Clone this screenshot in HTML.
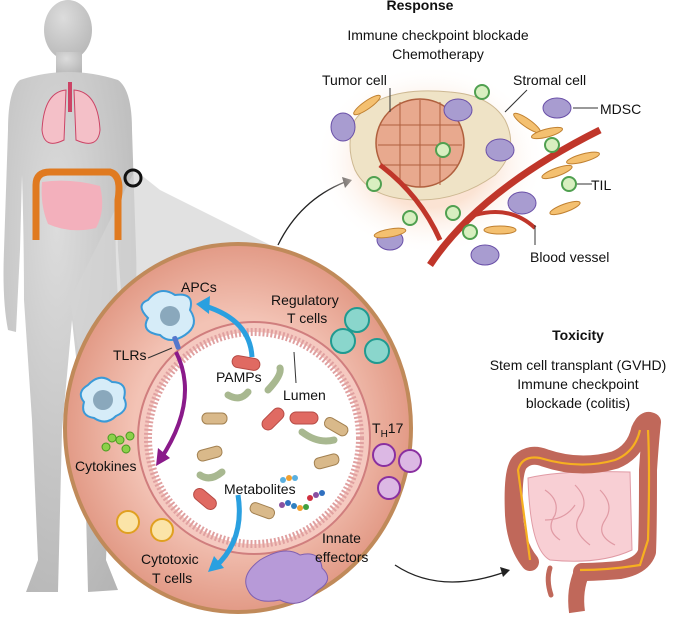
<!DOCTYPE html>
<html><head><meta charset="utf-8"><style>
body{margin:0;background:#fff}
svg{display:block}
text{font-family:"Liberation Sans",sans-serif;font-size:14px;fill:#111}
</style></head><body>
<svg width="685" height="625" viewBox="0 0 685 625">
<defs>
<radialGradient id="ring" cx="50%" cy="50%" r="50%">
<stop offset="60%" stop-color="#f3c3b5"/><stop offset="100%" stop-color="#e29a86"/>
</radialGradient>
<radialGradient id="body" cx="40%" cy="30%" r="80%">
<stop offset="0" stop-color="#dcdcdc"/><stop offset="1" stop-color="#b5b5b5"/>
</radialGradient>
<radialGradient id="halo" cx="50%" cy="50%" r="50%">
<stop offset="0.5" stop-color="#fbe3d3"/><stop offset="1" stop-color="#fff" stop-opacity="0"/>
</radialGradient>
</defs>
<g fill="url(#body)">
<ellipse cx="68" cy="30" rx="24" ry="30"/>
<rect x="56" y="52" width="26" height="22"/>
<path d="M20 80 Q68 64 118 80 Q132 90 132 130 L136 250 Q138 300 130 330 L124 332 L118 250 L116 175 Q114 240 118 300 L112 420 L106 560 L118 590 L88 592 L84 430 L72 320 L62 430 L58 592 L26 592 L38 560 L32 420 L24 300 Q24 240 22 175 L20 250 L16 332 L8 330 Q2 300 4 250 L8 130 Q8 90 20 80Z"/>
</g>
<path d="M135 170 L160 190 L300 260 L90 420 L70 300 Z" fill="#d4d4d4" opacity="0.7"/>
<path d="M66 90 Q44 92 42 130 Q44 150 64 140 Z" fill="#f4c0c8" stroke="#c46" stroke-width="1"/>
<path d="M74 90 Q98 92 100 130 Q98 150 76 140 Z" fill="#f4c0c8" stroke="#c46" stroke-width="1"/>
<rect x="68" y="82" width="4" height="30" fill="#c46"/>
<path d="M42 182 Q70 178 100 186 Q106 210 96 228 Q70 234 48 224 Q40 205 42 182Z" fill="#f3b0bc"/>
<path d="M36 240 L36 185 Q36 172 50 172 L110 172 Q122 175 118 200 L118 240" fill="none" stroke="#e07a20" stroke-width="7"/>
<circle cx="133" cy="178" r="8" fill="none" stroke="#111" stroke-width="3"/>
<ellipse cx="238" cy="428" rx="173" ry="184" fill="url(#ring)" stroke="#c08a5a" stroke-width="4"/>
<circle cx="254" cy="438" r="116" fill="#f5c9c0" stroke="#d07e7e" stroke-width="2"/>
<circle cx="254" cy="438" r="106" fill="#fff" stroke="#e0a0a0" stroke-width="8" stroke-dasharray="2 2"/>
<g fill="#e06a62" stroke="#b64b45">
<rect x="232" y="357" width="28" height="12" rx="6" transform="rotate(10 246 363)"/>
<rect x="290" y="412" width="28" height="12" rx="6"/>
<rect x="260" y="413" width="26" height="12" rx="6" transform="rotate(-45 273 419)"/>
<rect x="192" y="493" width="26" height="12" rx="6" transform="rotate(40 205 499)"/>
</g>
<g fill="#d9b98a" stroke="#a28050">
<rect x="202" y="413" width="25" height="11" rx="5"/>
<rect x="197" y="448" width="25" height="11" rx="5" transform="rotate(-15 210 453)"/>
<rect x="324" y="421" width="25" height="11" rx="5" transform="rotate(30 336 426)"/>
<rect x="314" y="456" width="25" height="11" rx="5" transform="rotate(-15 326 461)"/>
<rect x="250" y="505" width="25" height="11" rx="5" transform="rotate(20 262 510)"/>
</g>
<g fill="none" stroke="#a8b890" stroke-width="7" stroke-linecap="round">
<path d="M228 395 Q240 402 248 392"/><path d="M268 390 Q282 375 280 368"/>
<path d="M302 432 Q318 444 334 440"/><path d="M200 475 Q210 482 222 472"/>
</g>
<g>
<circle cx="283" cy="480" r="3" fill="#5ab0e0"/><circle cx="289" cy="478" r="3" fill="#f0a030"/><circle cx="295" cy="478" r="3" fill="#5ab0e0"/>
<circle cx="310" cy="498" r="3" fill="#d03040"/><circle cx="316" cy="495" r="3" fill="#8a50a0"/><circle cx="322" cy="493" r="3" fill="#3070c0"/>
<circle cx="282" cy="505" r="3" fill="#8a50a0"/><circle cx="288" cy="503" r="3" fill="#3070c0"/><circle cx="294" cy="506" r="3" fill="#3080c0"/><circle cx="300" cy="508" r="3" fill="#f0a030"/><circle cx="306" cy="507" r="3" fill="#40a040"/>
</g>
<path d="M148 300 Q160 285 175 295 Q195 292 190 310 Q200 325 185 335 Q170 345 160 335 Q140 332 148 318 Q135 305 148 300Z" fill="#d6ecf8" stroke="#3a9ad8" stroke-width="2"/>
<circle cx="170" cy="316" r="10" fill="#8aa8bc"/>
<rect x="174" y="336" width="5" height="14" rx="2" fill="#5577cc" transform="rotate(-20 176 343)"/>
<path d="M88 385 Q100 372 112 382 Q128 382 124 398 Q130 410 116 416 Q106 426 94 418 Q80 416 84 402 Q76 392 88 385Z" fill="#d6ecf8" stroke="#3a9ad8" stroke-width="2"/>
<circle cx="103" cy="400" r="10" fill="#8aa8bc"/>
<g fill="#8cd04a" stroke="#4a9a20"><circle cx="120" cy="440" r="4"/><circle cx="130" cy="436" r="4"/><circle cx="106" cy="447" r="4"/><circle cx="126" cy="449" r="4"/><circle cx="112" cy="438" r="4"/></g>
<g fill="#8ad6cc" stroke="#209a90" stroke-width="2"><circle cx="357" cy="320" r="12"/><circle cx="343" cy="341" r="12"/><circle cx="377" cy="351" r="12"/></g>
<g fill="#dcb8e4" stroke="#8a30a0" stroke-width="2"><circle cx="384" cy="455" r="11"/><circle cx="410" cy="461" r="11"/><circle cx="389" cy="488" r="11"/></g>
<g fill="#fbe4a8" stroke="#e0a020" stroke-width="2"><circle cx="128" cy="522" r="11"/><circle cx="162" cy="530" r="11"/></g>
<path d="M260 560 Q285 545 300 555 Q320 550 322 568 Q335 580 318 590 Q300 610 280 600 Q255 605 248 590 Q240 575 260 560Z" fill="#b79ad8" stroke="#8060b0"/>
<path d="M252 357 Q250 320 205 306" fill="none" stroke="#2aa0e0" stroke-width="5"/>
<path d="M196 304 L210 296 L209 314Z" fill="#2aa0e0"/>
<path d="M176 352 Q200 400 160 460" fill="none" stroke="#8a1a8a" stroke-width="4"/>
<path d="M156 466 L158 448 L170 458Z" fill="#8a1a8a"/>
<path d="M238 495 Q245 540 215 567" fill="none" stroke="#2aa0e0" stroke-width="5"/>
<path d="M208 572 L214 556 L224 568Z" fill="#2aa0e0"/>
<path d="M278 245 Q300 200 345 182" fill="none" stroke="#222" stroke-width="1.3"/>
<path d="M352 180 L342 177 L345 188Z" fill="#222"/>
<path d="M395 565 Q440 595 505 572" fill="none" stroke="#222" stroke-width="1.3"/>
<path d="M510 570 L500 567 L503 577Z" fill="#222"/>
<ellipse cx="430" cy="160" rx="115" ry="95" fill="url(#halo)"/>
<path d="M355 120 Q380 85 450 92 Q490 95 505 120 Q520 150 495 175 Q460 200 420 200 Q370 200 355 170 Q345 145 355 120Z" fill="#efe3c6" stroke="#cdb892"/>
<circle cx="420" cy="143" r="44" fill="#e8a98e" stroke="#b0603e" stroke-width="1.5"/>
<g stroke="#b0603e" stroke-width="1" fill="none"><path d="M380 125 L460 125 M378 145 L462 145 M382 165 L458 165 M400 102 L400 185 M420 100 L420 187 M440 102 L440 185"/></g>
<path d="M430 265 Q480 190 600 130" fill="none" stroke="#c0362a" stroke-width="7"/>
<path d="M440 240 Q420 195 380 165" fill="none" stroke="#c0362a" stroke-width="5"/>
<path d="M475 215 Q510 205 535 228" fill="none" stroke="#c0362a" stroke-width="4"/>
<g fill="#d8efc0" stroke="#50a050" stroke-width="2"><circle cx="482" cy="92" r="7"/><circle cx="443" cy="150" r="7"/><circle cx="552" cy="145" r="7"/><circle cx="569" cy="184" r="7"/><circle cx="374" cy="184" r="7"/><circle cx="410" cy="218" r="7"/><circle cx="453" cy="213" r="7"/><circle cx="470" cy="232" r="7"/></g>
<g fill="#a89cd0" stroke="#6a50a8"><ellipse cx="343" cy="127" rx="12" ry="14"/><ellipse cx="390" cy="240" rx="13" ry="10"/><ellipse cx="458" cy="110" rx="14" ry="11"/><ellipse cx="500" cy="150" rx="14" ry="11"/><ellipse cx="557" cy="108" rx="14" ry="10"/><ellipse cx="522" cy="203" rx="14" ry="11"/><ellipse cx="485" cy="255" rx="14" ry="10"/></g>
<g fill="#f4c070" stroke="#c08030"><ellipse cx="367" cy="105" rx="16" ry="4" transform="rotate(-35 367 105)"/><ellipse cx="527" cy="123" rx="16" ry="4" transform="rotate(35 527 123)"/><ellipse cx="547" cy="133" rx="16" ry="4" transform="rotate(-15 547 133)"/><ellipse cx="583" cy="158" rx="17" ry="4" transform="rotate(-15 583 158)"/><ellipse cx="557" cy="172" rx="16" ry="4" transform="rotate(-20 557 172)"/><ellipse cx="565" cy="208" rx="16" ry="4" transform="rotate(-20 565 208)"/><ellipse cx="390" cy="233" rx="16" ry="4" transform="rotate(-10 390 233)"/><ellipse cx="500" cy="230" rx="16" ry="4"/></g>
<!-- colon right -->
<path d="M528 478 Q560 470 630 472 L632 550 Q600 565 550 560 Q530 550 528 478Z" fill="#f8cfd4" stroke="#e09aa4"/>
<g fill="none" stroke="#e09aa4" stroke-width="1.2"><path d="M545 490 Q560 500 555 515 Q545 530 560 540 M575 485 Q590 500 580 515 Q570 530 590 545 M600 490 Q615 505 605 520 Q595 535 615 545 M545 520 Q565 520 575 505"/></g>
<path d="M530 562 Q516 545 514 515 Q512 470 520 462 Q530 452 545 458 Q580 470 615 460 Q635 452 640 430 Q645 418 652 422 Q650 440 648 470 Q648 530 647 552 Q642 566 620 570 Q595 572 582 572" fill="none" stroke="#c0685a" stroke-width="18" stroke-linejoin="round" stroke-linecap="round"/>
<path d="M582 572 Q574 590 577 612" fill="none" stroke="#c0685a" stroke-width="16"/>
<path d="M550 568 Q546 580 551 595" fill="none" stroke="#c0685a" stroke-width="5" stroke-linecap="round"/>
<path d="M530 560 L518 470 Q522 455 540 458 Q580 470 615 460 Q635 452 640 430 M648 430 Q650 470 648 540 L640 565 Q610 570 580 570" fill="none" stroke="#f6b020" stroke-width="2.2"/>
<text x="420" y="10" font-weight="bold" text-anchor="middle">Response</text>
<text x="438" y="40" text-anchor="middle">Immune checkpoint blockade</text>
<text x="438" y="59" text-anchor="middle">Chemotherapy</text>
<text x="322" y="85">Tumor cell</text>
<text x="513" y="85">Stromal cell</text>
<line x1="390" y1="88" x2="390" y2="112" stroke="#333"/>
<line x1="527" y1="90" x2="505" y2="112" stroke="#333"/>
<line x1="573" y1="108" x2="598" y2="108" stroke="#333"/>
<line x1="577" y1="184" x2="592" y2="184" stroke="#333"/>
<line x1="535" y1="225" x2="535" y2="245" stroke="#333"/>
<line x1="294" y1="352" x2="296" y2="383" stroke="#333"/>
<line x1="148" y1="358" x2="172" y2="348" stroke="#333"/>
<text x="600" y="114">MDSC</text>
<text x="591" y="190">TIL</text>
<text x="530" y="262">Blood vessel</text>
<text x="578" y="340" font-weight="bold" text-anchor="middle">Toxicity</text>
<text x="578" y="370" text-anchor="middle">Stem cell transplant (GVHD)</text>
<text x="578" y="389" text-anchor="middle">Immune checkpoint</text>
<text x="578" y="408" text-anchor="middle">blockade (colitis)</text>
<text x="181" y="292">APCs</text>
<text x="271" y="305">Regulatory</text>
<text x="287" y="323">T cells</text>
<text x="113" y="360">TLRs</text>
<text x="216" y="382">PAMPs</text>
<text x="283" y="400">Lumen</text>
<text x="372" y="433">T<tspan font-size="10" dy="4">H</tspan><tspan dy="-4">17</tspan></text>
<text x="75" y="471">Cytokines</text>
<text x="224" y="494">Metabolites</text>
<text x="141" y="564">Cytotoxic</text>
<text x="152" y="583">T cells</text>
<text x="322" y="543">Innate</text>
<text x="315" y="562">effectors</text>
</svg>
</body></html>
